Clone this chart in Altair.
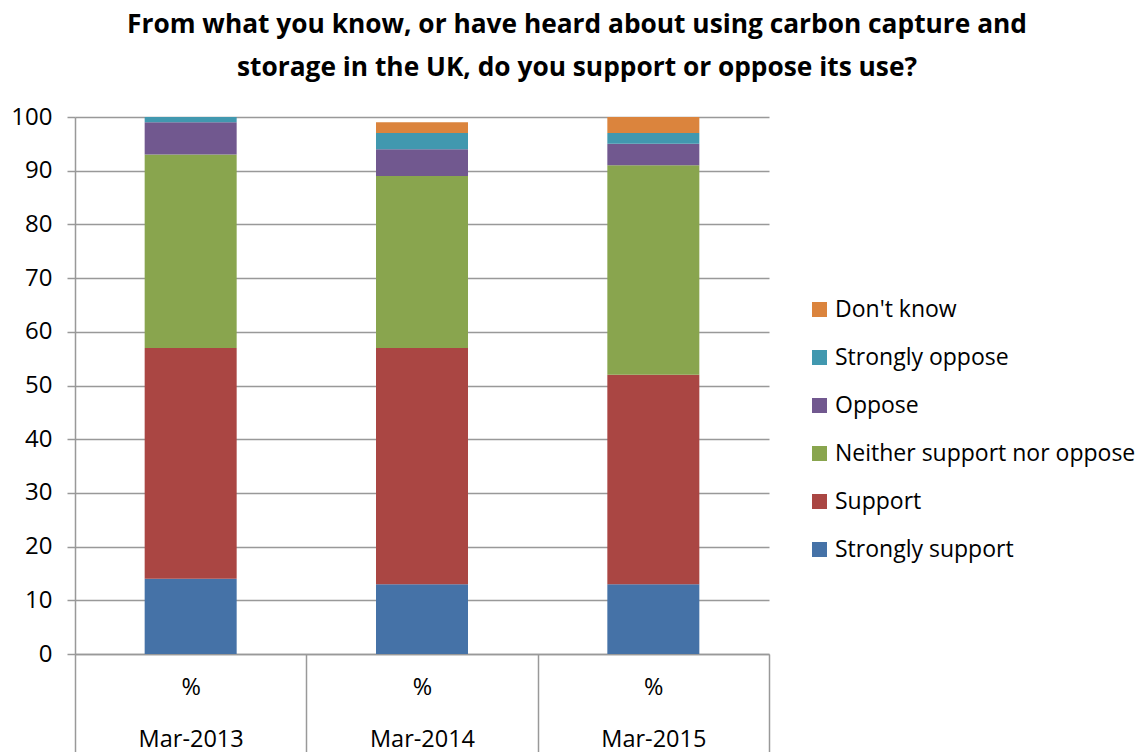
import altair as alt
import pandas as pd

periods = ["Mar-2013", "Mar-2014", "Mar-2015"]
categories = ["Strongly support", "Support", "Neither support nor oppose",
              "Oppose", "Strongly oppose", "Don't know"]
colors = ["#4572A7", "#AA4643", "#89A54E", "#71588F", "#4198AF", "#DB843D"]
values = {
    "Mar-2013": [14, 43, 36, 6, 1, 0],
    "Mar-2014": [13, 44, 32, 5, 3, 2],
    "Mar-2015": [13, 39, 39, 4, 2, 3],
}

rows = []
for p in periods:
    for i, c in enumerate(categories):
        rows.append({"period": "%|" + p, "category": c, "value": values[p][i], "idx": i})
df = pd.DataFrame(rows)

FONT = "Open Sans"

chart = alt.Chart(df).mark_bar(size=92).encode(
    x=alt.X("period:N", sort=None, title=None,
            scale=alt.Scale(paddingInner=0, paddingOuter=0),
            axis=alt.Axis(labelExpr="split(datum.label, '|')", labelAngle=0,
                          labelFontSize=23.5, labelLineHeight=52, labelPadding=-77,
                          labelBaseline="top",
                          labelColor="black", labelFont=FONT,
                          tickBand="extent", tickSize=98, tickColor="#999999", tickWidth=1.5,
                          domainColor="#999999", domainWidth=1.5)),
    y=alt.Y("value:Q", stack="zero", title=None,
            scale=alt.Scale(domain=[0, 100]),
            axis=alt.Axis(values=list(range(0, 101, 10)), labelFontSize=24, labelColor="black",
                          labelFont=FONT, gridColor="#999999", gridWidth=1.5,
                          domainColor="#999999", domainWidth=1.5,
                          tickColor="#999999", tickSize=8, tickWidth=1.5, labelPadding=15)),
    color=alt.Color("category:N",
                    scale=alt.Scale(domain=categories[::-1], range=colors[::-1]),
                    legend=alt.Legend(title=None, orient="none", legendX=733, legendY=181,
                                      symbolType="square", symbolSize=225,
                                      symbolStrokeWidth=0, labelFontSize=23,
                                      labelFont=FONT, labelColor="black", labelLimit=400,
                                      rowPadding=24, labelOffset=4)),
    order=alt.Order("idx:Q", sort="ascending"),
).properties(
    width=694, height=537,
    title=alt.Title(["From what you know, or have heard about using carbon capture and",
                     "storage in the UK, do you support or oppose its use?"],
                    fontSize=26.3, fontWeight="bold", font=FONT, color="black",
                    lineHeight=43, anchor="middle", dx=155, offset=24),
    autosize=alt.AutoSizeParams(type="none"),
    padding={"left": 75, "top": 117, "right": 368, "bottom": 98},
).configure_view(stroke=None)

chart.save("out.html", embed_options={"renderer": "svg", "actions": False})
